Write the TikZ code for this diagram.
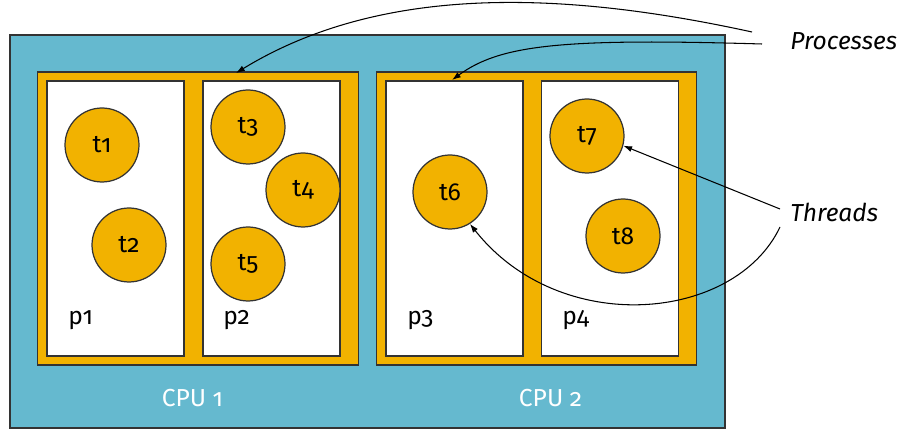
\documentclass[tikz,border=0pt]{standalone}
\usepackage{fontspec}
\setmainfont{Fira Sans}[Numbers=OldStyle]
\usetikzlibrary{arrows.meta}
\definecolor{cpublue}{RGB}{101,185,207}
\definecolor{procorange}{RGB}{242,178,0}

\begin{document}
\begin{tikzpicture}
    [
    x=0.02cm, y=-0.02cm,
    cpubox/.style={rectangle,draw=black!80,fill=cpublue,line width=0.7pt,inner sep=0pt,minimum width=14.3cm,minimum height=7.86cm},
    procframe/.style={rectangle,draw=black!80,fill=procorange,line width=0.7pt,inner sep=0pt,minimum width=6.41cm,minimum height=5.86cm},
    procbox/.style={rectangle,draw=black!80,fill=white,line width=0.7pt,inner sep=0pt,minimum width=2.74cm,minimum height=5.5cm},
    thread/.style={circle,draw=black!80,fill=procorange,line width=0.7pt,inner sep=0pt,minimum size=1.48cm,font=\fontsize{14}{16}\selectfont},
    lbl/.style={inner sep=0pt,font=\fontsize{14}{16}\selectfont},
    note/.style={inner sep=0pt,font=\fontsize{14}{16}\selectfont\itshape},
    pointer/.style={-{Latex[length=5pt,width=3.5pt]},line width=0.6pt}
    ]
    \useasboundingbox (0,0) rectangle (900,438);
    \node (cpu) at (367.5,231.5) [cpubox] {};
    \node (frameA) at (198,218.5) [procframe] {};
    \node (frameB) at (536.5,218.5) [procframe] {};
    \node (p1) at (115.5,218.5) [procbox] {};
    \node (p2) at (271.5,218.5) [procbox] {};
    \node (p3) at (454.5,218.5) [procbox] {};
    \node (p4) at (610,218.5) [procbox] {};
    % threads
    \node (t1) at (102,145) [thread] {t1};
    \node (t2) at (129,245) [thread] {t2};
    \node (t3) at (248,127) [thread] {t3};
    \node (t4) at (303,190) [thread] {t4};
    \node (t5) at (248,264) [thread] {t5};
    \node (t6) at (450,192) [thread] {t6};
    \node (t7) at (587,136) [thread] {t7};
    \node (t8) at (623,236) [thread] {t8};
    % labels
    \node (l1) at (68,325) [lbl,anchor=base west] {p1};
    \node (l2) at (223,325) [lbl,anchor=base west] {p2};
    \node (l3) at (407,325) [lbl,anchor=base west] {p3};
    \node (l4) at (562,325) [lbl,anchor=base west] {p4};
    \node (c1) at (192.5,407) [lbl,anchor=base,text=white] {CPU 1};
    \node (c2) at (550.5,407) [lbl,anchor=base,text=white] {CPU 2};
    \node (procs) at (790,50) [note,anchor=base west] {Processes};
    \node (thrs) at (790,222) [note,anchor=base west] {Threads};
    % pointers
    \coordinate (pa) at (752,32);
    \coordinate (pb) at (762,44);
    \coordinate (ta) at (780,209);
    \coordinate (tb) at (780,227);
    \coordinate (fa) at (236,73);
    \coordinate (fb) at (452,80);
    \draw [pointer] (pa) .. controls (560,-10) and (380,-15) .. (fa);
    \draw [pointer] (pb) .. controls (560,38) and (500,45) .. (fb);
    \draw [pointer] (ta) -- (t7.-15);
    \draw [pointer] (tb) .. controls (735,322) and (560,338) .. (t6.-58);
\end{tikzpicture}
\end{document}
